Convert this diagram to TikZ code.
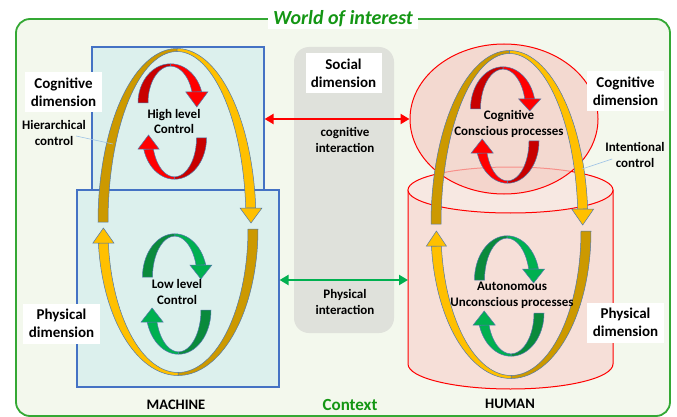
\documentclass[tikz,border=0pt]{standalone}
\usepackage{fontspec}
\setmainfont{Carlito}
\usetikzlibrary{arrows.meta,shapes.geometric}

\definecolor{framegreen}{RGB}{52,168,52}
\definecolor{worldgreen}{RGB}{20,150,20}
\definecolor{bggreen}{RGB}{243,248,237}
\definecolor{mfill}{RGB}{220,240,237}
\definecolor{mborder}{RGB}{68,114,196}
\definecolor{ctxgray}{RGB}{223,225,219}
\definecolor{hfill}{RGB}{244,205,196}
\definecolor{cylbody}{RGB}{246,223,216}
\definecolor{cyltop}{RGB}{247,232,226}
\definecolor{golddark}{RGB}{204,153,0}
\definecolor{goldlight}{RGB}{255,192,0}
\definecolor{reddark}{RGB}{200,0,0}
\definecolor{redlight}{RGB}{255,0,0}
\definecolor{greendark}{RGB}{10,138,60}
\definecolor{greenlight}{RGB}{0,176,80}
\definecolor{bandblue}{RGB}{80,120,170}
\definecolor{calloutblue}{RGB}{157,195,230}

% band of a loop: cx, cy, rx, ry, half width, half width at apex, from, to, colour
\newcommand{\bandarc}[9]{%
  \filldraw[fill=#9,bandline] plot[domain=#7:#8,samples=40] ({#1+(#3+#5)*cos(\x)},{#2+(#4+#6)*sin(\x)})
    -- plot[domain=#8:#7,samples=40] ({#1+(#3-#5)*cos(\x)},{#2+(#4-#6)*sin(\x)}) -- cycle;}
% head of a loop: x, y of base, y of tip, half width, colour
\newcommand{\bandtip}[5]{%
  \filldraw[fill=#5,bandline] (#1-#4,#2) -- (#1+#4,#2) -- (#1,#3) -- cycle;}

\begin{document}
\begin{tikzpicture}[x=1pt,y=-1pt,
  dimbox/.style={fill=white,align=center,inner sep=0pt,minimum width=77,minimum height=40,font=\bfseries\fontsize{15}{18}\selectfont},
  note/.style={align=center,inner sep=0pt,font=\bfseries\fontsize{13}{16}\selectfont},
  inlbl/.style={align=center,inner sep=0pt,font=\bfseries\fontsize{13}{15.5}\selectfont},
  mbox/.style={draw=mborder,fill=mfill,line width=1.2,inner sep=0pt},
  bandline/.style={draw=bandblue,line width=0.5},
  callout/.style={draw=calloutblue,line width=0.6},
  interarrow/.style={line width=2.2,{Triangle[length=9pt,width=10pt]}-{Triangle[length=9pt,width=10pt]}}]
  \useasboundingbox (0,0) rectangle (677,417);
  \draw[framegreen,line width=1.8,fill=bggreen,rounded corners=14] (16,19) rectangle (670,416);
  \node[fill=white,text=worldgreen,inner xsep=5,inner ysep=2,font=\bfseries\itshape\fontsize{20}{24}\selectfont] (title) at (343,19) {World of interest};

  % machine
  \node[mbox,minimum width=172,minimum height=143] (mcog) at (178,118.5) {};
  \node[mbox,minimum width=202,minimum height=197] (mphys) at (178,288.5) {};

  % context column
  \node[fill=ctxgray,rounded corners=15,minimum width=100,minimum height=286,inner sep=0pt] (ctx) at (344,190) {};

  % human
  \filldraw[draw=red,line width=1,fill=cylbody] (408,190) -- (408,364) arc[start angle=180,end angle=360,x radius=102.5pt,y radius=25pt] -- (613,190) -- cycle;
  \filldraw[draw=red,line width=1,fill=cyltop] (510.5,190) ellipse[x radius=102.5pt,y radius=23pt];
  \coordinate (hphys) at (408,280);
  \node[ellipse,draw=red,line width=1,fill=hfill,fill opacity=0.7,minimum width=188,minimum height=150,inner sep=0pt] (hcog) at (504,119) {};

  \draw[interarrow,redlight] (mcog.east |- hcog.west) -- (hcog.west);
  \draw[interarrow,greenlight] (mphys.east |- hphys) -- (hphys);

  % machine loops
  \bandarc{177}{222}{74}{172}{5}{1.5}{180}{270}{golddark}
  \bandarc{177}{222}{74}{172}{5}{1.5}{270}{355.3}{goldlight}
  \bandtip{251}{208}{223}{11}{goldlight}
  \bandarc{178}{229}{75}{145}{5}{1.5}{0}{90}{golddark}
  \bandarc{178}{229}{75}{145}{5}{1.5}{90}{174.5}{goldlight}
  \bandtip{103.4}{243}{228}{10.5}{goldlight}
  \bandarc{170.5}{103}{27.5}{38}{5}{1.2}{180}{270}{reddark}
  \bandarc{170.5}{103}{27.5}{38}{5}{1.2}{270}{343.2}{redlight}
  \bandtip{196.8}{92}{107}{11}{redlight}
  \bandarc{174.5}{138}{27}{40}{5}{1.2}{0}{90}{reddark}
  \bandarc{174.5}{138}{27}{40}{5}{1.2}{90}{164}{redlight}
  \bandtip{148.5}{149}{135}{10.5}{redlight}
  \bandarc{174.75}{277}{27.25}{42}{5}{1.2}{180}{270}{greendark}
  \bandarc{174.75}{277}{27.25}{42}{5}{1.2}{270}{343.4}{greenlight}
  \bandtip{200.9}{265}{279}{11}{greenlight}
  \bandarc{178.5}{310}{27.5}{43}{5}{1.2}{0}{90}{greendark}
  \bandarc{178.5}{310}{27.5}{43}{5}{1.2}{90}{163.8}{greenlight}
  \bandtip{152.1}{322}{308}{11}{greenlight}

  % human loops
  \bandarc{509.5}{224}{73.5}{172}{5}{1.5}{180}{270}{golddark}
  \bandarc{509.5}{224}{73.5}{172}{5}{1.5}{270}{355}{goldlight}
  \bandtip{582.7}{209}{225}{11}{goldlight}
  \bandarc{511}{231}{75}{146}{5}{1.5}{0}{90}{golddark}
  \bandarc{511}{231}{75}{146}{5}{1.5}{90}{174.1}{goldlight}
  \bandtip{436.4}{246}{231}{10}{goldlight}
  \bandarc{503}{109}{27.5}{41}{5}{1.2}{180}{270}{reddark}
  \bandarc{503}{109}{27.5}{41}{5}{1.2}{270}{345.9}{redlight}
  \bandtip{529.7}{99}{111}{11}{redlight}
  \bandarc{507.5}{141}{26.5}{41}{5}{1.2}{0}{90}{reddark}
  \bandarc{507.5}{141}{26.5}{41}{5}{1.2}{90}{163}{redlight}
  \bandtip{482.2}{153}{139}{11}{redlight}
  \bandarc{507}{280}{27.5}{43}{5}{1.2}{180}{270}{greendark}
  \bandarc{507}{280}{27.5}{43}{5}{1.2}{270}{345.2}{greenlight}
  \bandtip{533.6}{269}{283}{11}{greenlight}
  \bandarc{511}{313}{28}{42}{5}{1.2}{0}{90}{greendark}
  \bandarc{511}{313}{28}{42}{5}{1.2}{90}{163.4}{greenlight}
  \bandtip{484.2}{325}{311}{11}{greenlight}

  % labels
  \node[dimbox] (mcogl) at (63.5,92) {Cognitive\\dimension};
  \node[dimbox] (mphysl) at (61.5,323.5) {Physical\\dimension};
  \node[dimbox] (hcogl) at (625.5,91) {Cognitive\\dimension};
  \node[dimbox] (hphysl) at (625.5,322.5) {Physical\\dimension};
  \node[dimbox,minimum width=76] (social) at (343.5,73) {Social\\dimension};
  \node[inlbl] (cogint) at (345,140) {cognitive\\interaction};
  \node[inlbl] (physint) at (345,302) {Physical\\interaction};
  \node[inlbl] (high) at (174,121.5) {High level\\Control};
  \node[inlbl] (low) at (177,292) {Low level\\Control};
  \node[inlbl] (conscious) at (509,124) {Cognitive\\Conscious processes};
  \node[inlbl] (uncons) at (512,295.5) {Autonomous\\Unconscious processes};
  \node[note] (hier) at (54,133) {Hierarchical\\control};
  \node[note] (intent) at (635,155) {Intentional\\control};
  \node[font=\bfseries\fontsize{14.5}{17}\selectfont] (machine) at (176,405) {MACHINE};
  \node[font=\bfseries\fontsize{14.5}{17}\selectfont] (human) at (510,404) {HUMAN};
  \node[text=worldgreen,font=\bfseries\fontsize{17}{20}\selectfont] (context) at (350,405) {Context};

  \coordinate (hierend) at (113,144);
  \coordinate (intentend) at (582,169);
  \draw[callout] ([xshift=-10pt,yshift=-3pt]hier.east) -- (hierend);
  \draw[callout] ([xshift=7pt,yshift=-4pt]intent.west) -- (intentend);
\end{tikzpicture}
\end{document}
